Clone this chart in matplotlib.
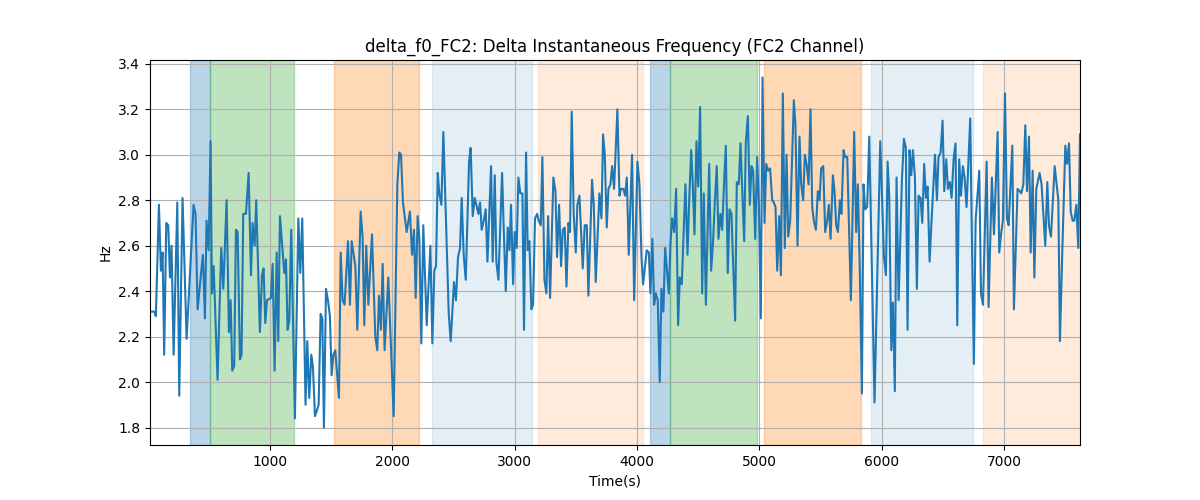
import matplotlib
matplotlib.use("Agg")
import matplotlib.pyplot as plt

# time (s) and delta f0 (Hz)
times = [20, 54, 68, 93, 109, 123, 136, 153, 169, 183, 196, 213, 243, 259, 286, 319, 376, 392, 409, 452,
         469, 482, 499, 515, 526, 540, 572, 602, 619, 646, 665, 679, 692, 708, 722, 736, 755, 768, 782, 804,
         826, 845, 858, 875, 888, 918, 935, 948, 962, 976, 1008, 1022, 1038, 1055, 1068, 1082, 1117, 1131, 1144, 1158,
         1174, 1204, 1232, 1248, 1264, 1291, 1305, 1321, 1338, 1351, 1368, 1381, 1398, 1414, 1428, 1441, 1458, 1474, 1490, 1504,
         1518, 1534, 1564, 1578, 1594, 1610, 1638, 1654, 1668, 1698, 1714, 1741, 1757, 1771, 1787, 1804, 1834, 1861, 1877, 1891,
         1907, 1921, 1937, 1967, 2011, 2041, 2057, 2071, 2087, 2117, 2144, 2161, 2177, 2191, 2207, 2221, 2237, 2253, 2281, 2311,
         2327, 2343, 2357, 2371, 2384, 2401, 2417, 2461, 2477, 2504, 2520, 2537, 2553, 2567, 2583, 2600, 2627, 2640, 2657, 2673,
         2687, 2703, 2717, 2730, 2747, 2763, 2777, 2807, 2820, 2837, 2850, 2867, 2897, 2910, 2927, 2943, 2957, 2970, 2987, 3000,
         3016, 3030, 3046, 3063, 3076, 3093, 3106, 3120, 3136, 3150, 3166, 3183, 3196, 3213, 3226, 3243, 3259, 3273, 3289, 3316,
         3333, 3346, 3363, 3379, 3393, 3409, 3423, 3439, 3452, 3466, 3482, 3499, 3512, 3529, 3556, 3572, 3589, 3602, 3632, 3646,
         3662, 3692, 3709, 3722, 3736, 3752, 3766, 3782, 3796, 3812, 3839, 3856, 3869, 3888, 3902, 3916, 3932, 3959, 3976, 4003,
         4019, 4036, 4049, 4079, 4096, 4109, 4125, 4139, 4153, 4169, 4185, 4199, 4215, 4229, 4259, 4273, 4286, 4303, 4319, 4335,
         4349, 4365, 4395, 4412, 4425, 4442, 4455, 4469, 4485, 4499, 4515, 4532, 4545, 4562, 4589, 4605, 4621, 4635, 4651, 4665,
         4681, 4695, 4711, 4725, 4741, 4755, 4771, 4801, 4815, 4831, 4845, 4875, 4888, 4905, 4921, 4935, 4948, 4965, 4981, 4995,
         5011, 5025, 5041, 5055, 5071, 5087, 5104, 5117, 5131, 5145, 5161, 5175, 5191, 5207, 5221, 5235, 5251, 5281, 5294, 5311,
         5327, 5341, 5357, 5371, 5387, 5401, 5417, 5431, 5444, 5461, 5477, 5491, 5504, 5521, 5537, 5553, 5567, 5581, 5600, 5613,
         5627, 5641, 5657, 5670, 5687, 5700, 5717, 5747, 5774, 5790, 5804, 5820, 5837, 5850, 5864, 5880, 5897, 5940, 5987, 6017,
         6033, 6047, 6060, 6077, 6090, 6106, 6120, 6137, 6164, 6180, 6196, 6210, 6226, 6240, 6254, 6270, 6286, 6300, 6316, 6330,
         6346, 6360, 6374, 6390, 6406, 6434, 6450, 6463, 6480, 6496, 6510, 6526, 6540, 6556, 6570, 6586, 6602, 6616, 6632, 6646,
         6662, 6676, 6692, 6722, 6736, 6752, 6766, 6796, 6810, 6826, 6840, 6856, 6872, 6899, 6916, 6946, 6959, 6976, 6989, 7006,
         7022, 7036, 7066, 7079, 7109, 7126, 7139, 7156, 7172, 7186, 7202, 7216, 7232, 7246, 7262, 7289, 7305, 7335, 7352, 7365,
         7382, 7412, 7442, 7455, 7472, 7499, 7513, 7529, 7543, 7559, 7572, 7589, 7605, 7619]

delta_f0 = [2.31, 2.31, 2.29, 2.78, 2.49, 2.57, 2.12, 2.70, 2.69, 2.46, 2.60, 2.12, 2.79, 1.94, 2.81, 2.19, 2.78, 2.74, 2.32, 2.56,
            2.28, 2.71, 2.58, 3.06, 2.39, 2.51, 2.01, 2.59, 2.41, 2.80, 2.22, 2.36, 2.05, 2.07, 2.67, 2.66, 2.10, 2.12, 2.74, 2.74,
            2.92, 2.47, 2.70, 2.60, 2.80, 2.22, 2.47, 2.50, 2.26, 2.36, 2.37, 2.52, 2.05, 2.57, 2.18, 2.73, 2.48, 2.54, 2.23, 2.27,
            2.67, 1.84, 2.72, 2.48, 2.72, 1.90, 2.18, 1.93, 2.12, 2.07, 1.85, 1.87, 1.90, 2.30, 2.28, 1.80, 2.41, 2.36, 2.29, 2.03,
            2.12, 2.14, 1.93, 2.57, 2.36, 2.34, 2.62, 2.34, 2.62, 2.51, 2.23, 2.75, 2.64, 2.25, 2.60, 2.34, 2.65, 2.20, 2.14, 2.38,
            2.23, 2.52, 2.14, 2.46, 1.85, 2.87, 3.01, 3.00, 2.79, 2.66, 2.75, 2.56, 2.67, 2.37, 2.73, 2.63, 2.17, 2.69, 2.25, 2.60,
            2.17, 2.49, 2.51, 2.92, 2.83, 2.78, 3.10, 2.30, 2.18, 2.44, 2.36, 2.55, 2.59, 2.81, 2.56, 2.45, 2.97, 3.03, 2.73, 2.81,
            2.78, 2.74, 2.79, 2.67, 2.71, 2.76, 2.53, 2.95, 2.53, 2.91, 2.53, 2.45, 2.92, 2.68, 2.40, 2.68, 2.58, 2.78, 2.43, 2.66,
            2.59, 2.90, 2.83, 2.83, 2.23, 3.01, 2.58, 2.62, 2.32, 2.34, 2.72, 2.74, 2.71, 2.69, 2.99, 2.45, 2.39, 2.73, 2.37, 2.90,
            2.84, 2.55, 2.78, 2.51, 2.67, 2.68, 2.42, 2.70, 2.66, 3.19, 2.74, 2.57, 2.78, 2.82, 2.50, 2.69, 2.69, 2.38, 2.89, 2.78,
            2.44, 2.83, 2.72, 3.09, 3.00, 2.68, 2.85, 2.87, 2.95, 2.85, 3.20, 2.82, 2.85, 2.85, 2.82, 2.90, 2.56, 3.00, 2.36, 2.97,
            2.87, 2.55, 2.43, 2.58, 2.57, 2.39, 2.63, 2.34, 2.39, 2.36, 2.00, 2.41, 2.31, 2.59, 2.39, 2.61, 2.72, 2.66, 2.85, 2.25,
            2.46, 2.43, 2.87, 2.56, 2.79, 3.02, 2.87, 2.65, 3.06, 2.86, 3.21, 2.39, 2.83, 2.34, 2.96, 2.49, 2.62, 2.79, 2.95, 2.63,
            2.74, 2.67, 2.88, 3.04, 2.48, 2.76, 2.74, 2.27, 2.88, 2.87, 3.05, 2.62, 3.05, 3.17, 2.78, 2.95, 2.93, 2.63, 2.99, 2.78,
            2.28, 3.34, 2.70, 2.96, 2.93, 2.94, 2.80, 2.79, 2.77, 2.49, 2.73, 2.47, 3.27, 2.59, 3.00, 2.64, 2.71, 3.24, 3.13, 2.60,
            3.08, 2.87, 2.80, 3.00, 2.95, 2.87, 3.20, 2.77, 2.71, 2.67, 2.84, 2.80, 2.94, 2.95, 2.66, 2.71, 2.78, 2.63, 2.91, 2.84,
            2.69, 2.66, 2.80, 2.74, 3.02, 2.99, 2.99, 2.36, 3.10, 2.66, 2.87, 2.48, 1.95, 2.87, 2.76, 2.77, 3.08, 1.91, 3.06, 2.55,
            2.47, 2.97, 2.82, 2.14, 2.35, 1.96, 2.90, 2.36, 2.89, 3.07, 3.03, 2.23, 3.02, 2.91, 3.02, 2.90, 2.41, 2.82, 2.81, 2.70,
            2.96, 2.81, 2.86, 2.53, 2.71, 3.00, 2.80, 2.99, 3.01, 3.15, 2.84, 2.98, 2.85, 2.88, 2.81, 2.98, 3.05, 2.25, 2.98, 2.82,
            2.95, 2.90, 2.77, 3.16, 2.62, 2.08, 2.71, 2.93, 2.39, 2.34, 2.64, 2.97, 2.33, 2.90, 2.65, 3.10, 2.57, 2.66, 2.71, 3.27,
            2.72, 2.69, 3.04, 2.32, 2.85, 2.84, 2.83, 2.87, 3.13, 2.84, 3.08, 2.57, 2.93, 2.46, 2.85, 2.92, 2.87, 2.60, 2.88, 2.69,
            2.64, 2.95, 2.80, 2.18, 2.53, 3.04, 2.96, 3.05, 2.75, 2.71, 2.71, 2.78, 2.59, 3.09]

# shaded segments
seg_start = [346, 509, 1523, 2325, 3191, 4106, 4272, 5039, 5913, 6829]
seg_end = [509, 1193, 2215, 3142, 4047, 4272, 4978, 5831, 6747, 7700]
seg_kind = ['blue', 'green', 'orange', 'lightblue', 'lightorange',
            'blue', 'green', 'orange', 'lightblue', 'lightorange']

seg_style = {
    'blue': ('tab:blue', 0.3),
    'green': ('tab:green', 0.3),
    'orange': ('tab:orange', 0.3),
    'lightblue': ('tab:blue', 0.12),
    'lightorange': ('tab:orange', 0.15),
}

fig, ax = plt.subplots(figsize=(12, 5), dpi=100)

for s, e, k in zip(seg_start, seg_end, seg_kind):
    color, alpha = seg_style[k]
    ax.axvspan(s, e, color=color, alpha=alpha)

ax.plot(times, delta_f0, color='tab:blue', linewidth=1.5)

ax.set_xlim(times[0], times[-1])
ax.set_title('delta_f0_FC2: Delta Instantaneous Frequency (FC2 Channel)')
ax.set_xlabel('Time(s)')
ax.set_ylabel('Hz')
ax.grid(True)

plt.savefig('out.png')
